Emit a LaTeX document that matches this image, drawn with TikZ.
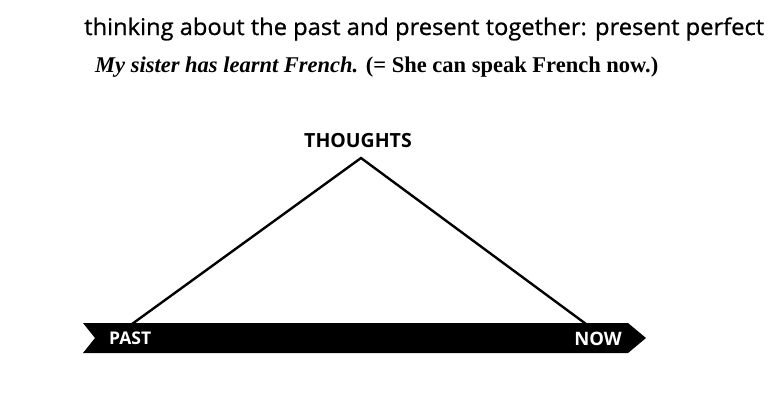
\documentclass[tikz,border=0pt]{standalone}
\usepackage{fontspec}
\setmainfont{Liberation Serif}
\setsansfont{Open Sans}
\begin{document}
\begin{tikzpicture}[x=1pt,y=-1pt,
  lbl/.style={font=\sffamily\bfseries\fontsize{17.5}{20}\selectfont, inner sep=0pt},
  tri/.style={line width=2.4pt, line join=miter}]
\useasboundingbox (0,0) rectangle (783,400);
% title
\node[anchor=base west, inner sep=0pt, font=\sffamily\fontsize{23}{26}\selectfont\addfontfeature{FakeStretch=1.03,FakeBold=0.8}] (title) at (84,35) {thinking about the past and present together: present perfect};
\node[anchor=base west, inner sep=0pt, font=\rmfamily\fontsize{22.5}{24}\selectfont] (ex) at (95,72) {\textbf{\textit{My sister has learnt French.}} \textbf{(= She can speak French now.)}};
% timeline bar
\fill (83,323) -- (628,323) -- (646,338) -- (628,353) -- (83,353) -- (95,338) -- cycle;
\node[lbl, text=white, anchor=base west] (past) at (109,344) {PAST};
\node[lbl, font=\sffamily\bfseries\fontsize{18.5}{20}\selectfont, text=white, anchor=base east] (now) at (622,345) {NOW};
% triangle
\coordinate (apex) at (361,158);
\coordinate (pl) at (132,324);
\coordinate (pr) at (586,324);
\draw[tri] (pl) -- (apex) -- (pr);
\node[lbl, font=\sffamily\bfseries\fontsize{19.5}{20}\selectfont, anchor=base] (thoughts) at (358,147) {THOUGHTS};
\end{tikzpicture}
\end{document}
